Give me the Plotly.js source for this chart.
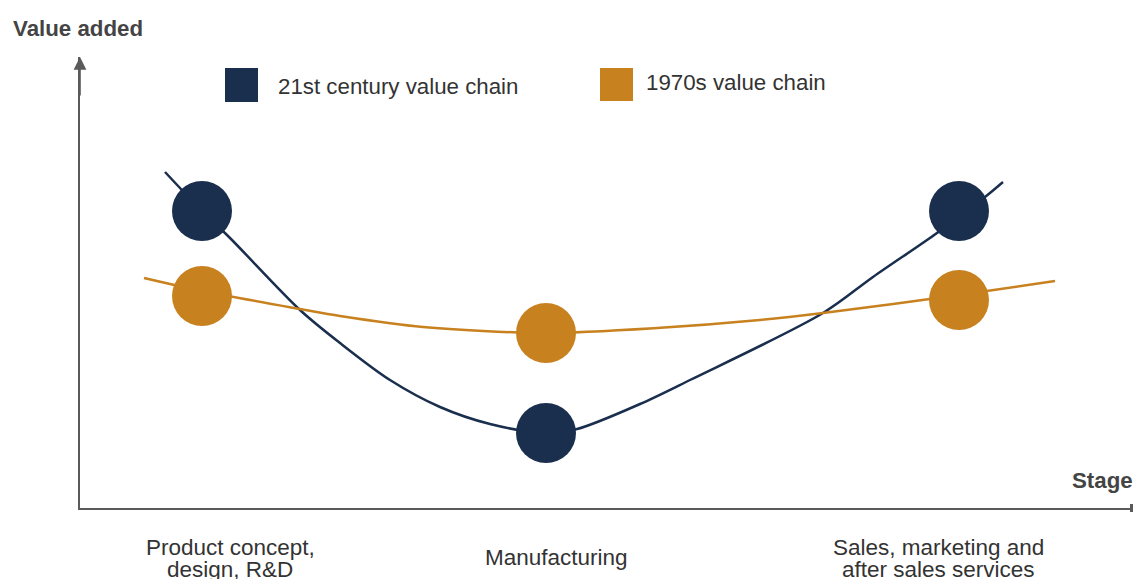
<!DOCTYPE html>
<html>
<head>
<meta charset="utf-8">
<script src="https://cdn.plot.ly/plotly-3.0.1.min.js"></script>
<style>html,body{margin:0;padding:0;background:#fff;}#chart{width:1133px;height:579px;}</style>
</head>
<body>
<div id="chart"></div>
<script>
// ---- data ----
const seriesNames = ["21st century value chain", "1970s value chain"];
const stageLabels = ["Product concept,<br>design, R&D", "Manufacturing", "Sales, marketing and<br>after sales services"];
const stageLabelX = [150, 476, 858];
const stageX = [122, 466, 879];
const modernValue = [297, 75, 297];
const seventiesValue = [212, 175, 208];
const modernCurveX = [85, 122, 150, 220, 260, 310, 360, 410, 466, 497, 560, 610, 743, 793, 857, 879, 905, 923];
const modernCurveY = [336, 297, 270, 198, 165, 128, 101, 84, 75, 79, 104, 128, 195, 231, 275, 292, 311, 326];
const seventiesCurveX = [64, 122, 220, 260, 343, 465, 577, 680, 743, 879, 975];
const seventiesCurveY = [230, 217, 199, 192, 181, 175, 180, 188, 195, 213, 227];

// ---- styling ----
const NAVY = "#1a2e4d", ORANGE = "#c8811f";
const W = 1133, H = 579, ML = 80, MR = 3, MT = 57, MB = 71;
const PW = W - ML - MR, PH = H - MT - MB;
const px = x => (x - ML) / PW;
const py = y => (H - MB - y) / PH;
const FONT = "Liberation Sans, Arial, Helvetica, sans-serif";
const AXIS = "#5a5a5a";

const traces = [
  {x: modernCurveX, y: modernCurveY, mode: "lines", line: {color: NAVY, width: 2.5, shape: "spline", smoothing: 0.9}, hoverinfo: "skip", showlegend: false},
  {x: seventiesCurveX, y: seventiesCurveY, mode: "lines", line: {color: ORANGE, width: 2.5, shape: "spline", smoothing: 0.8}, hoverinfo: "skip", showlegend: false},
  {x: stageX, y: modernValue, mode: "markers", name: seriesNames[0], marker: {color: NAVY, size: 60}, showlegend: false},
  {x: stageX, y: seventiesValue, mode: "markers", name: seriesNames[1], marker: {color: ORANGE, size: 60}, showlegend: false}
];

const annotations = [];
const shapes = [];
// y-axis arrow head
annotations.push({xref: "paper", yref: "paper", x: 0, y: 1, ax: 0, ay: 40, text: "", showarrow: true,
  arrowhead: 2, arrowsize: 1.6, arrowwidth: 1.6, arrowcolor: AXIS});
// x-axis arrow head base (tip runs off the canvas edge)
shapes.push({type: "rect", xref: "paper", yref: "paper", x0: px(1130), x1: px(1133), y0: py(512), y1: py(504),
  fillcolor: AXIS, line: {width: 0}});
// axis titles
annotations.push({xref: "paper", yref: "paper", x: px(11), y: py(28), xanchor: "left", yanchor: "middle", showarrow: false,
  text: "<b>Value added</b>", font: {family: FONT, size: 22.3, color: "#444"}});
annotations.push({xref: "paper", yref: "paper", x: px(1135), y: py(480), xanchor: "right", yanchor: "middle", showarrow: false,
  text: "<b>Stage</b>", font: {family: FONT, size: 22.3, color: "#444"}});
// stage labels (one annotation per line)
stageLabels.forEach((lab, i) => {
  const lines = lab.split("<br>");
  const centers = lines.length === 1 ? [557] : [547, 569];
  lines.forEach((ln, j) => {
    annotations.push({xref: "x", yref: "paper", x: stageLabelX[i], y: py(centers[j]), xanchor: "center", yanchor: "middle",
      showarrow: false, text: ln, font: {family: FONT, size: 22.5, color: "#333"}});
  });
});
// legend
const legendItems = [
  {x0: 225, x1: 258, y0: 68, y1: 102, tx: 276, ty: 86, color: NAVY},
  {x0: 600, x1: 633, y0: 68, y1: 101, tx: 644, ty: 82, color: ORANGE}
];
legendItems.forEach((it, i) => {
  shapes.push({type: "rect", xref: "paper", yref: "paper", x0: px(it.x0), x1: px(it.x1), y0: py(it.y1), y1: py(it.y0),
    fillcolor: it.color, line: {width: 0}});
  annotations.push({xref: "paper", yref: "paper", x: px(it.tx), y: py(it.ty), xanchor: "left", yanchor: "middle", showarrow: false,
    text: seriesNames[i], font: {family: FONT, size: 22.3, color: "#333"}});
});

const layout = {
  width: W, height: H,
  margin: {l: ML, r: MR, t: MT, b: MB, pad: 0},
  paper_bgcolor: "#fff", plot_bgcolor: "#fff",
  showlegend: false,
  xaxis: {range: [0, PW], showgrid: false, zeroline: false, showticklabels: false, ticks: "",
    showline: true, linecolor: AXIS, linewidth: 2, fixedrange: true},
  yaxis: {range: [0, PH], showgrid: false, zeroline: false, showticklabels: false, ticks: "",
    showline: true, linecolor: AXIS, linewidth: 2, fixedrange: true},
  annotations: annotations,
  shapes: shapes
};

Plotly.newPlot("chart", traces, layout, {displayModeBar: false, staticPlot: true});
</script>
</body>
</html>
